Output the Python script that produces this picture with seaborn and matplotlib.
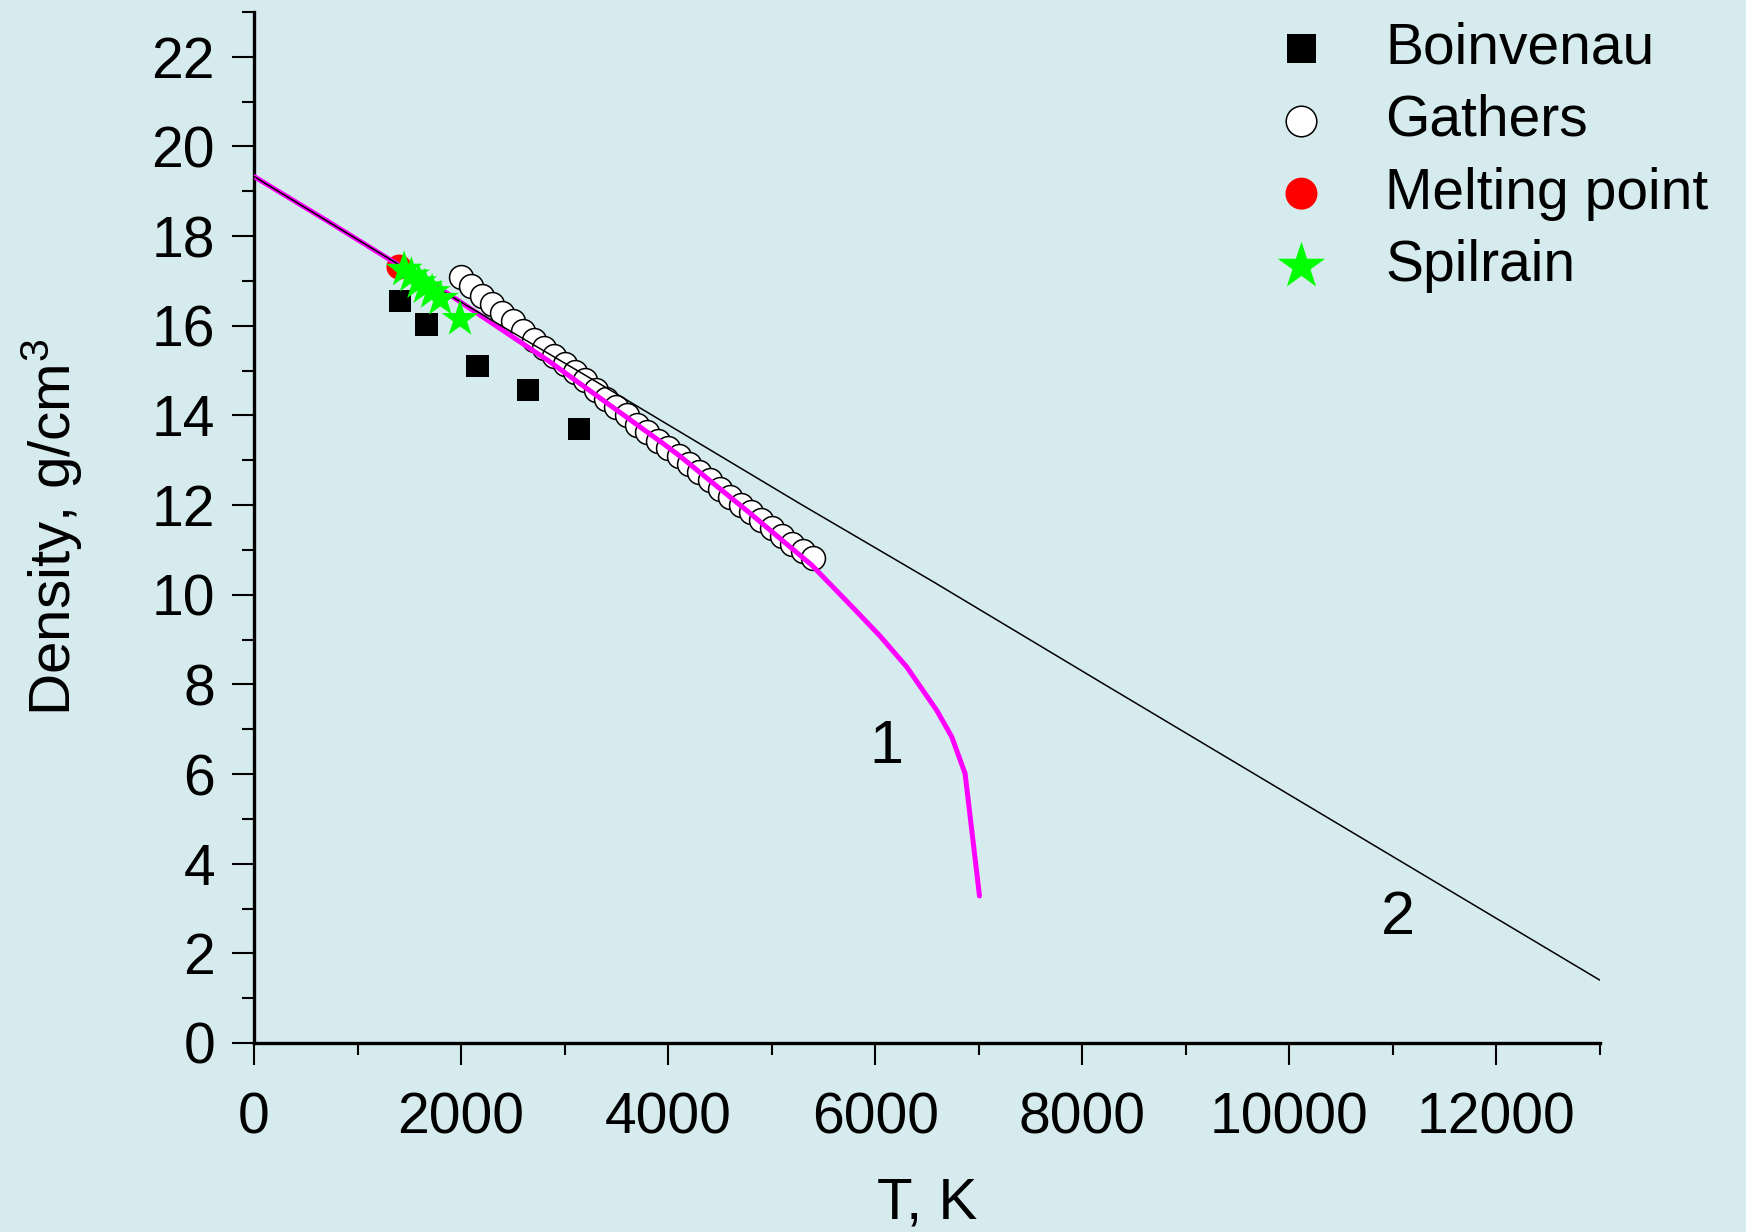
import matplotlib
matplotlib.use("Agg")
import matplotlib.pyplot as plt
import seaborn as sns
import pandas as pd
from matplotlib.ticker import MultipleLocator

# ---- data ----
boin_T = [1410, 1665, 2160, 2645, 3140]
boin_rho = [16.55, 16.03, 15.10, 14.57, 13.70]

gath_T = [2000, 2100, 2200, 2300, 2400, 2500, 2600, 2700, 2800, 2900,
          3000, 3100, 3200, 3300, 3400, 3500, 3600, 3700, 3800, 3900,
          4000, 4100, 4200, 4300, 4400, 4500, 4600, 4700, 4800, 4900,
          5000, 5100, 5200, 5300, 5400]
gath_rho = [17.08, 16.88, 16.67, 16.48, 16.28, 16.10, 15.89, 15.69, 15.50, 15.33,
            15.15, 14.98, 14.78, 14.56, 14.37, 14.19, 14.00, 13.79, 13.62, 13.44,
            13.27, 13.09, 12.91, 12.73, 12.55, 12.37, 12.19, 12.01, 11.84, 11.66,
            11.48, 11.31, 11.14, 10.98, 10.81]

melt_T = [1400]
melt_rho = [17.31]

spil_T = [1450, 1520, 1590, 1650, 1720, 1800, 1990]
spil_rho = [17.25, 17.12, 16.97, 16.86, 16.75, 16.60, 16.15]

curve1_T = [0, 700, 1400, 1845, 2843, 3953, 4115, 4800, 5387, 5790, 6046, 6304, 6594, 6739, 6868, 7007]
curve1_rho = [19.33, 18.35, 17.35, 16.76, 15.22, 13.37, 13.09, 11.80, 10.66, 9.70, 9.08, 8.39, 7.42, 6.83, 6.01, 3.28]

curve2_T = [0, 1800, 3300, 5274, 6560, 8170, 13000]
curve2_rho = [19.33, 16.80, 14.76, 12.03, 10.29, 8.06, 1.40]

labels = ["Boinvenau", "Gathers", "Melting point", "Spilrain"]
x_label = "T, K"
y_label = "Density, g/cm$^3$"

# ---- style ----
bg = "#D6EBEE"
sns.set_style("ticks")
plt.rcParams["font.family"] = ["Liberation Sans", "DejaVu Sans"]
plt.rcParams["mathtext.fontset"] = "custom"
plt.rcParams["mathtext.rm"] = "Liberation Sans"
plt.rcParams["mathtext.it"] = "Liberation Sans"
for k in ["text.color", "axes.labelcolor", "xtick.color", "ytick.color", "axes.edgecolor"]:
    plt.rcParams[k] = "black"

fig = plt.figure(figsize=(17.46, 12.32), dpi=100, facecolor=bg)
ax = fig.add_axes([254 / 1746, 1 - 1043 / 1232, (1600 - 254) / 1746, (1043 - 12) / 1232])
ax.set_facecolor(bg)

fs = 41

c1 = pd.DataFrame({"T": curve1_T, "rho": curve1_rho})
c2 = pd.DataFrame({"T": curve2_T, "rho": curve2_rho})

sns.scatterplot(x=gath_T, y=gath_rho, marker="o", s=17.2 ** 2, color="white",
                edgecolor="black", linewidth=1.1, ax=ax, zorder=2, label=labels[1])
sns.scatterplot(x=melt_T, y=melt_rho, marker="o", s=18 ** 2, color="#FF0000",
                edgecolor="none", linewidth=0, ax=ax, zorder=2, label=labels[2])
sns.scatterplot(x=boin_T, y=boin_rho, marker="s", s=16.3 ** 2, color="black",
                edgecolor="none", linewidth=0, ax=ax, zorder=2, label=labels[0])
sns.lineplot(data=c1, x="T", y="rho", color="#FF00FF", linewidth=3.6, ax=ax,
             zorder=3, sort=False, estimator=None, legend=False)
sns.lineplot(data=c2, x="T", y="rho", color="black", linewidth=1.1, ax=ax,
             zorder=4, sort=False, estimator=None, legend=False)
sns.scatterplot(x=spil_T, y=spil_rho, marker="*", s=28 ** 2, color="#00FF00",
                edgecolor="none", linewidth=0, ax=ax, zorder=5, label=labels[3])

ax.set_xlim(0, 13000)
ax.set_ylim(0, 23)
ax.xaxis.set_major_locator(MultipleLocator(2000))
ax.xaxis.set_minor_locator(MultipleLocator(1000))
ax.yaxis.set_major_locator(MultipleLocator(2))
ax.yaxis.set_minor_locator(MultipleLocator(1))

for s in ["top", "right"]:
    ax.spines[s].set_visible(False)
for s in ["left", "bottom"]:
    ax.spines[s].set_linewidth(2.4)
    ax.spines[s].set_color("black")

ax.tick_params(which="major", direction="out", length=16, width=1.5,
               labelsize=fs, color="black", labelcolor="black")
ax.tick_params(which="minor", direction="out", length=8.6, width=1.5, color="black")
ax.tick_params(axis="x", which="major", pad=19)
ax.tick_params(axis="y", which="major", pad=12)

ax.set_xlabel(x_label, fontsize=42, labelpad=22)
ax.set_ylabel(y_label, fontsize=42, labelpad=48)

ax.text(6104, 6.60, "1", fontsize=44, ha="center", va="center")
ax.text(11045, 2.78, "2", fontsize=44, ha="center", va="center")

# legend in the requested order
handles, labs = ax.get_legend_handles_labels()
hmap = dict(zip(labs, handles))
ax.legend([hmap[l] for l in labels], labels, loc="upper left",
          bbox_to_anchor=(1273 / 1746, 1 - 21 / 1232), bbox_transform=fig.transFigure,
          frameon=False, fontsize=fs, markerscale=1.28, handlelength=1.0,
          handletextpad=0.97, labelspacing=0.33, borderpad=0, borderaxespad=0)

fig.savefig("out.png", dpi=100, facecolor=bg)
